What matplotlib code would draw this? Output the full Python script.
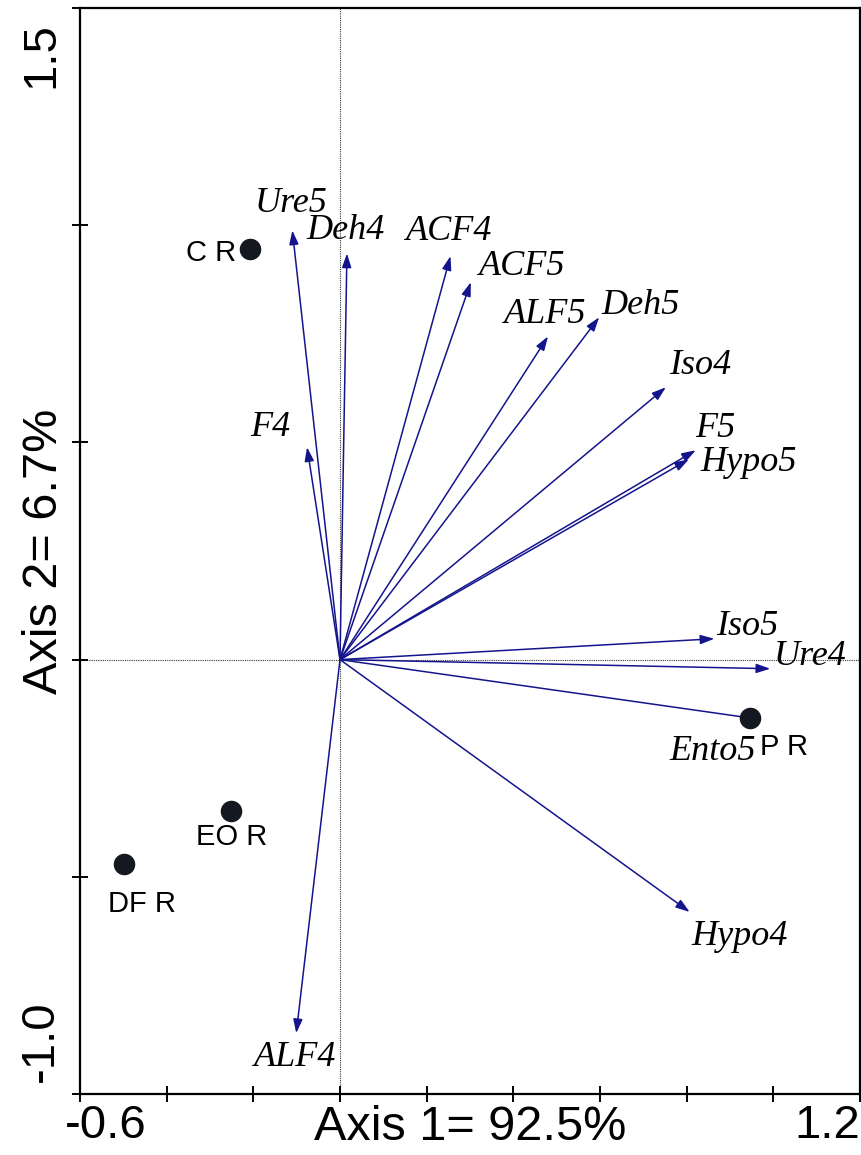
import numpy as np
import matplotlib
matplotlib.use("Agg")
import matplotlib.pyplot as plt
import matplotlib.transforms as mtransforms

# environmental variables (arrow tips)
species = ['Ure5', 'Deh4', 'ACF4', 'ACF5', 'ALF5', 'Deh5', 'Iso4', 'F5', 'Hypo5',
           'F4', 'Iso5', 'Ure4', 'Ento5', 'Hypo4', 'ALF4']
sp_x = [-0.110, 0.016, 0.255, 0.302, 0.480, 0.598, 0.752, 0.821, 0.805,
        -0.076, 0.864, 0.993, 0.972, 0.807, -0.101]
sp_y = [0.988, 0.935, 0.929, 0.869, 0.744, 0.788, 0.627, 0.482, 0.461,
        0.489, 0.048, -0.021, -0.138, -0.581, -0.860]

# samples
samples = ['C R', 'P R', 'EO R', 'DF R']
smp_x = [-0.207, 0.945, -0.251, -0.499]
smp_y = [0.945, -0.134, -0.348, -0.470]

xtick_vals = [-0.6, -0.4, -0.2, 0.0, 0.2, 0.4, 0.6, 0.8, 1.0, 1.2]
ytick_vals = [-1.0, -0.5, 0.0, 0.5, 1.0, 1.5]

# label offsets from the arrow tip / dot, in pixels
sp_off = {'Ure5': (-1, 27), 'Deh4': (-1, 23), 'ACF4': (-1, 25), 'ACF5': (51, 16),
          'ALF5': (-3, 22), 'Deh5': (41, 12), 'Iso4': (34, 22), 'F5': (20, 22),
          'Hypo5': (60, -3), 'F4': (-37, 20), 'Iso5': (33, 12), 'Ure4': (40, 12),
          'Ento5': (-49, -32), 'Hypo4': (50, -25), 'ALF4': (-1, -24)}
smp_off = {'C R': (-39, -4), 'P R': (35, -29), 'EO R': (0, -26), 'DF R': (18, -40)}

arrow_col = '#14148c'

fig = plt.figure(figsize=(8.61, 11.55), dpi=100)
ax = fig.add_axes([80 / 861, 61 / 1155, 780 / 861, 1086 / 1155])
ax.set_xlim(-0.6, 1.2)
ax.set_ylim(-1.0, 1.5)

ax.axhline(0, color='#333333', lw=0.8, ls=(0, (1, 1)), zorder=1)
ax.axvline(0, color='#333333', lw=0.8, ls=(0, (1, 1)), zorder=1)

for name, x, y in zip(species, sp_x, sp_y):
    ax.annotate('', xy=(x, y), xytext=(0, 0),
                arrowprops=dict(arrowstyle='-|>,head_length=0.6,head_width=0.2',
                                color=arrow_col, lw=1.1, mutation_scale=14,
                                shrinkA=0, shrinkB=0), zorder=2)
    dx, dy = sp_off[name]
    ax.annotate(name, xy=(x, y), xytext=(dx, dy), textcoords='offset pixels',
                ha='center', va='center', fontsize=26, fontstyle='italic',
                family='Liberation Serif', color='black', zorder=4)

ax.plot(smp_x, smp_y, 'o', color='#141820', markersize=14.5, zorder=3)
for name, x, y in zip(samples, smp_x, smp_y):
    dx, dy = smp_off[name]
    ax.annotate(name, xy=(x, y), xytext=(dx, dy), textcoords='offset pixels',
                ha='center', va='center', fontsize=21, family='Liberation Sans',
                color='black', zorder=4)

# axes look
for sp in ax.spines.values():
    sp.set_linewidth(1.6)
ax.tick_params(direction='inout', length=12, width=1.4, top=False, right=False)
ax.set_xticks(xtick_vals)
ax.set_xticklabels(['-0.6'] + [''] * 8 + ['1.2'], fontsize=34, family='Liberation Sans')
ax.set_yticks(ytick_vals)
ax.set_yticklabels(['-1.0', '', '', '', '', '1.5'], fontsize=34, family='Liberation Sans',
                   rotation=90)
ax.tick_params(axis='x', pad=1)
ax.tick_params(axis='y', pad=22)

xl = ax.get_xticklabels()
xl[0].set_ha('left')
xl[0].set_transform(xl[0].get_transform() + mtransforms.ScaledTranslation(-0.15, 0, fig.dpi_scale_trans))
xl[-1].set_ha('right')
yl = ax.get_yticklabels()
yl[0].set_va('bottom')
yl[0].set_transform(yl[0].get_transform() + mtransforms.ScaledTranslation(0, 0.12, fig.dpi_scale_trans))
yl[-1].set_va('top')
yl[-1].set_transform(yl[-1].get_transform() + mtransforms.ScaledTranslation(0, -0.14, fig.dpi_scale_trans))
for t in yl:
    t.set_ha('center')

ax.set_xlabel('Axis 1= 92.5%', fontsize=35, family='Liberation Sans')
ax.set_ylabel('Axis 2= 6.7%', fontsize=35, family='Liberation Sans')
ax.xaxis.label.set_va('center')
ax.yaxis.label.set_va('center')
ax.xaxis.set_label_coords(0.5, -0.031)
ax.yaxis.set_label_coords(-0.045, 0.5)

fig.savefig('out.png', dpi=100)
